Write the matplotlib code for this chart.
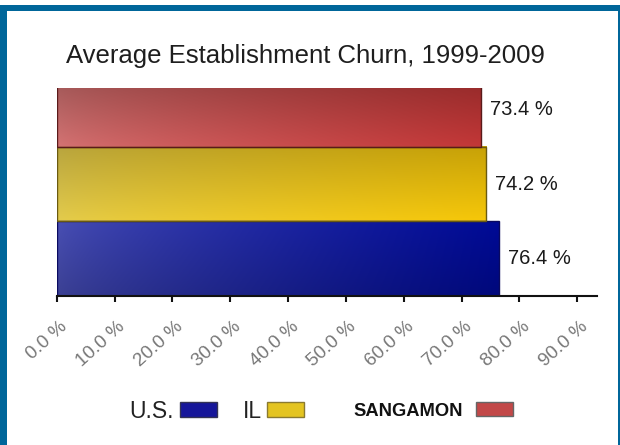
import numpy as np
import matplotlib
matplotlib.use("Agg")
import matplotlib.pyplot as plt
from matplotlib.patches import Rectangle, Patch
from matplotlib.transforms import ScaledTranslation
from matplotlib.colors import to_rgb

plt.rcParams['font.family'] = ['Liberation Sans', 'DejaVu Sans']

# ---- data ----
categories = ["U.S.", "IL", "SANGAMON"]
values = [76.4, 74.2, 73.4]
value_labels = ["76.4 %", "74.2 %", "73.4 %"]
xticks = [0, 10, 20, 30, 40, 50, 60, 70, 80, 90]
xtick_labels = ["0.0 %", "10.0 %", "20.0 %", "30.0 %", "40.0 %",
                "50.0 %", "60.0 %", "70.0 %", "80.0 %", "90.0 %"]
title = "Average Establishment Churn, 1999-2009"

# ---- styles ----
W, H, DPI = 620, 445, 100
fig = plt.figure(figsize=(W / DPI, H / DPI), dpi=DPI)
fig.patch.set_facecolor("white")

def fx(px):
    return px / W

def fy(py):
    return (H - py) / H

ax = fig.add_axes([fx(56.7), fy(296), fx(597) - fx(56.7), fy(88) - fy(296)])
ax.set_facecolor("none")

base_colors = ["#1c22a6", "#e2c01c", "#c04040"]
edge_colors = ["#0a0a60", "#6a5a10", "#5a1a1a"]
# gradient stops (left, right) and vertical multiplier (top, bottom)
grad = [
    (("#4a50b4", "#000a96"), (1.0, 0.82)),
    (("#d6c04a", "#e8bc08"), (0.86, 1.06)),
    (("#c86e6e", "#b83434"), (0.78, 1.06)),
]

ypos = np.arange(len(categories))
bars = ax.barh(ypos, values, height=1.0, color=base_colors, zorder=1)

for bar, (hc, vm) in zip(bars, grad):
    x0, y0 = bar.get_x(), bar.get_y()
    w, h = bar.get_width(), bar.get_height()
    nx, ny = 200, 60
    cl, cr = np.array(to_rgb(hc[0])), np.array(to_rgb(hc[1]))
    t = np.linspace(0, 1, nx) ** 0.7
    row = cl[None, :] * (1 - t[:, None]) + cr[None, :] * t[:, None]
    s = np.linspace(0, 1, ny)
    v = vm[0] * (1 - s) + vm[1] * s  # top->bottom
    img = np.clip(row[None, :, :] * v[:, None, None], 0, 1)
    im = ax.imshow(img, extent=(x0, x0 + w, y0, y0 + h), origin="upper",
                   aspect="auto", zorder=2, interpolation="bilinear")
    im.set_clip_path(bar)
    im.set_clip_box(ax.bbox)

ax.barh(ypos, values, height=1.0, facecolor="none", edgecolor=edge_colors,
        linewidth=1.0, zorder=3)

for yv, val, lab in zip(ypos, values, value_labels):
    ax.annotate(lab, xy=(val, yv), xytext=(9, 0), textcoords="offset pixels",
                ha="left", va="center", fontsize=14.5, color="#1a1a1a")

ax.set_xlim(0, 93.4)
ax.set_ylim(-0.5, 2.29)
ax.set_yticks([])
for sp in ["top", "right", "left"]:
    ax.spines[sp].set_visible(False)
ax.spines["bottom"].set_color("#111111")
ax.spines["bottom"].set_linewidth(1.5)
ax.spines["bottom"].set_zorder(4)

ax.set_xticks(xticks)
ax.set_xticklabels(xtick_labels, rotation=42, ha="right", va="center",
                   rotation_mode="anchor", fontsize=13.5, color="#777777")
ax.tick_params(axis="x", direction="out", length=4.5, width=1.5,
               color="#111111", pad=16)
for lab in ax.get_xticklabels():
    lab.set_transform(lab.get_transform() +
                      ScaledTranslation(0.08, 0, fig.dpi_scale_trans))

fig.text(0.492, fy(56), title, ha="center", va="center", fontsize=18.5,
         color="#1e1e1e")

# legends
leg_specs = [
    ("U.S.", 129, 16.5, "normal", 6, "#16169a", "#333355"),
    ("IL", 243, 16.5, "normal", 5, "#e4c420", "#8a7a30"),
    ("SANGAMON", 353, 13.2, "bold", 13, "#c24848", "#666666"),
]
for lab, xs, fs, fw, gap, fc, ec in leg_specs:
    fpx = fs * DPI / 72
    h = Patch(facecolor=fc, edgecolor=ec, linewidth=1.0)
    lg = fig.legend([h], [lab], loc="center left",
                    bbox_to_anchor=(fx(xs), fy(411)), frameon=False,
                    markerfirst=False, borderpad=0, borderaxespad=0,
                    handlelength=37 / fpx, handleheight=14 / fpx,
                    handletextpad=gap / fpx,
                    prop={"size": fs, "weight": fw})
    for t in lg.get_texts():
        t.set_color("#111111" if fw == "bold" else "#222222")

# border frame
border = "#00669a"
fig.patches.append(Rectangle((0, 0), fx(7), fy(5), transform=fig.transFigure,
                             facecolor=border, edgecolor="none", zorder=10))
fig.patches.append(Rectangle((0, fy(11)), 1, fy(5) - fy(11),
                             transform=fig.transFigure, facecolor=border,
                             edgecolor="none", zorder=10))
fig.patches.append(Rectangle((fx(617.5), 0), fx(2.5), fy(5),
                             transform=fig.transFigure, facecolor=border,
                             edgecolor="none", zorder=10))

fig.savefig("out.png", dpi=DPI)
